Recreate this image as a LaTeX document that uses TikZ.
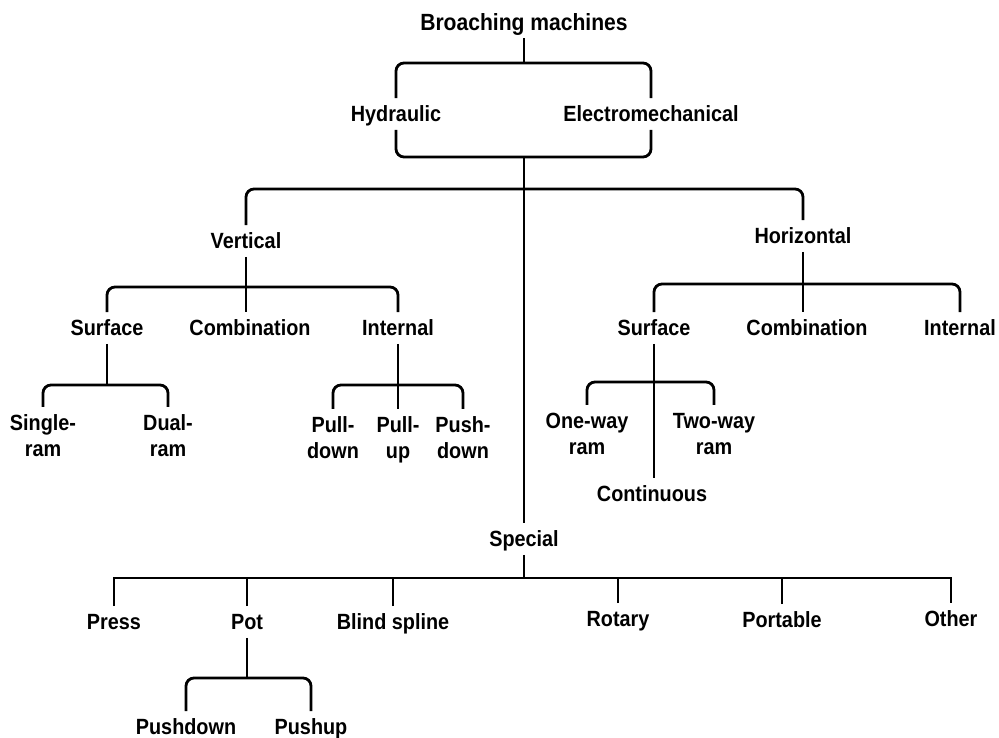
\documentclass[tikz,border=0pt]{standalone}
\usepackage{fontspec}
\newfontfamily\chartfont{Liberation Sans}[FakeStretch=0.9]
\usepackage{tikz}

\begin{document}
\begin{tikzpicture}[
    x=0.03cm, y=-0.03cm,
    heading/.style={font=\chartfont\bfseries\fontsize{20}{24}\selectfont, inner sep=0pt, outer ysep=0.24cm, text height=14.3pt, text depth=0pt},
    cat/.style={font=\chartfont\bfseries\fontsize{18.8}{22.2}\selectfont, inner sep=0pt, outer ysep=0.24cm, text height=13.5pt, text depth=0pt},
    cattwo/.style={font=\chartfont\bfseries\fontsize{18.8}{22.2}\selectfont, inner sep=0pt, outer ysep=0.24cm, align=center, anchor=north},
    link/.style={line width=2.4pt, rounded corners=0.24cm}
]
    \useasboundingbox (0,0) rectangle (999,738);

    % Nodes
    \node (root) [heading] at (524,22) {Broaching machines};
    \node (hyd) [cat] at (396,114) {Hydraulic};
    \node (elec) [cat] at (651,114) {Electromechanical};

    \node (vert) [cat] at (246,241) {Vertical};
    \node (horiz) [cat] at (803,236) {Horizontal};
    \node (special) [cat] at (524,539) {Special};

    \node (vsurf) [cat] at (107,328) {Surface};
    \node (vcomb) [cat] at (250,328) {Combination};
    \node (vint) [cat] at (398,328) {Internal};
    \node (hsurf) [cat] at (654,328) {Surface};
    \node (hcomb) [cat] at (807,328) {Combination};
    \node (hint) [cat] at (960,328) {Internal};

    \node (single) [cattwo] at (43,407) {Single-\\ram};
    \node (dual) [cattwo] at (168,407) {Dual-\\ram};
    \node (pulldown) [cattwo] at (333,409) {Pull-\\down};
    \node (pullup) [cattwo] at (398,409) {Pull-\\up};
    \node (pushdown) [cattwo] at (463,409) {Push-\\down};
    \node (oneway) [cattwo] at (587,405) {One-way\\ram};
    \node (twoway) [cattwo] at (714,405) {Two-way\\ram};
    \node (cont) [cat] at (652,494) {Continuous};

    \node (press) [cat] at (114,622) {Press};
    \node (pot) [cat] at (247,622) {Pot};
    \node (blind) [cat] at (393,622) {Blind spline};
    \node (rotary) [cat] at (618,619) {Rotary};
    \node (portable) [cat] at (782,620) {Portable};
    \node (other) [cat] at (951,619) {Other};
    \node (potdown) [cat] at (186,727) {Pushdown};
    \node (potup) [cat] at (311,727) {Pushup};

    % Bar junctions
    \coordinate (bm) at (524,63);
    \coordinate (bh) at (524,157);
    \coordinate (bt) at (524,189);
    \coordinate (bv) at (246,287);
    \coordinate (bhz) at (803,284);
    \coordinate (bvs) at (107,385);
    \coordinate (bvi) at (398,385);
    \coordinate (bhs) at (654,382);
    \coordinate (bs) at (524,578);
    \coordinate (bp) at (247,678);

    % Connectors
    \draw [link] (root) -- (bm);
    \draw [link] (hyd) |- (bm) -| (elec);
    \draw [link] (hyd) |- (bh) -| (elec);
    \draw [link] (bh) -- (special);
    \draw [link] (vert) |- (bt) -| (horiz);

    \draw [link] (vsurf) |- (bv) -| (vint);
    \draw [link] (vert) -- (vert |- vcomb.north);
    \draw [link] (hsurf) |- (bhz) -| (hint);
    \draw [link] (horiz) -- (horiz |- hcomb.north);

    \draw [link] (vsurf) -- (bvs);
    \draw [link] (single) |- (bvs) -| (dual);
    \draw [link] (pulldown) |- (bvi) -| (pushdown);
    \draw [link] (vint) -- (vint |- pullup.north);
    \draw [link] (oneway) |- (bhs) -| (twoway);
    \draw [link] (hsurf) -- (hsurf |- cont.north);

    \draw [link] (special) -- (bs);
    \draw [link, sharp corners] (press) |- (bs) -| (other);
    \foreach \n in {pot,blind,rotary,portable}
        \draw [link] (\n) -- (\n |- bs);
    \draw [link] (pot) -- (bp);
    \draw [link] (potdown) |- (bp) -| (potup);

\end{tikzpicture}
\end{document}
